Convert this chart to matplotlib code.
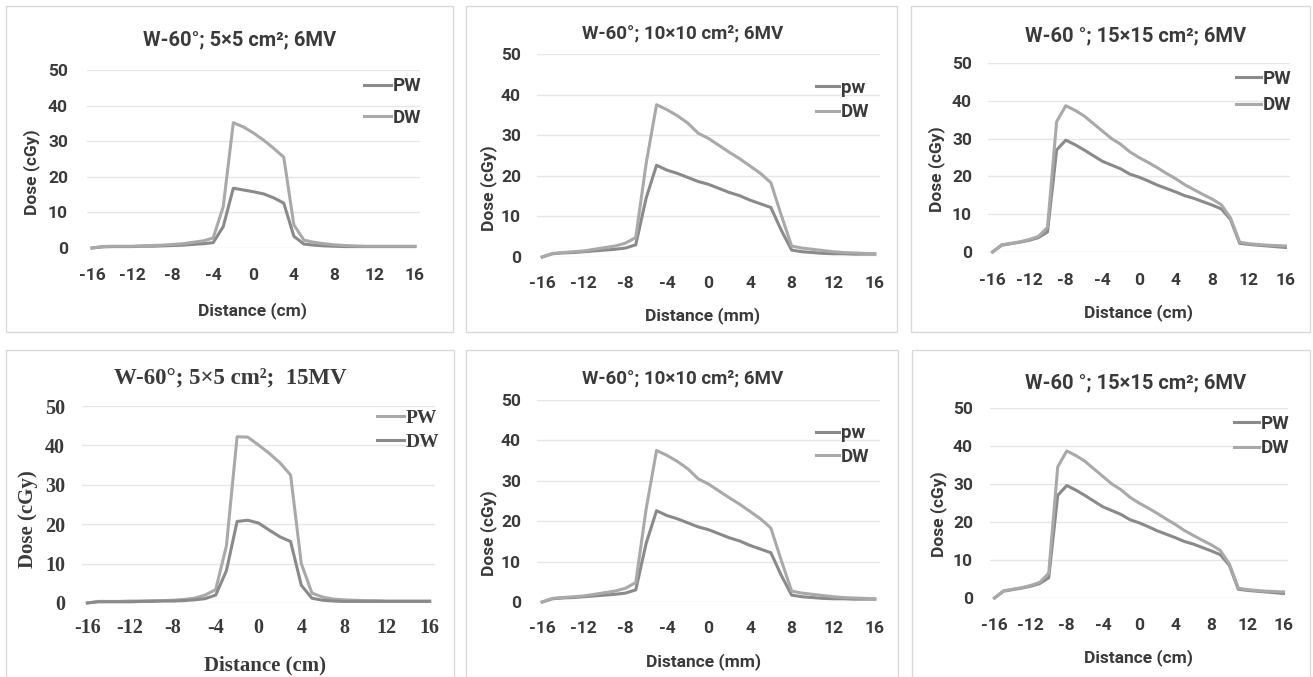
import numpy as np
import matplotlib
matplotlib.use('Agg')
import matplotlib.pyplot as plt
from matplotlib.patches import Rectangle

plt.rcParams['axes.unicode_minus'] = False

W, H = 1313, 677

distance = list(range(-16, 17))

# W-60; 5x5 cm2; 6MV
pw_5x5_6mv = [0, 0.3, 0.4, 0.4, 0.4, 0.5, 0.5, 0.6, 0.7, 0.8, 1.0, 1.2, 1.5, 6, 16.8, 16.3, 15.8,
              15.2, 14.1, 12.6, 3.3, 1.1, 0.8, 0.6, 0.5, 0.4, 0.4, 0.4, 0.4, 0.4, 0.4, 0.4, 0.4]
dw_5x5_6mv = [0, 0.4, 0.5, 0.5, 0.5, 0.6, 0.7, 0.8, 1.0, 1.2, 1.6, 2.0, 2.8, 11.6, 35.2, 34, 32.3,
              30.3, 28, 25.5, 6.5, 2.2, 1.6, 1.2, 0.9, 0.7, 0.6, 0.5, 0.5, 0.5, 0.5, 0.5, 0.5]

# W-60; 10x10 cm2; 6MV
pw_10x10_6mv = [0, 0.8, 1.0, 1.1, 1.3, 1.5, 1.7, 1.9, 2.2, 3.0, 14.5, 22.6, 21.4, 20.6, 19.6, 18.6, 17.9,
                16.9, 15.9, 15.1, 14.0, 13.1, 12.2, 6.6, 1.7, 1.3, 1.1, 0.9, 0.8, 0.8, 0.7, 0.7, 0.7]
dw_10x10_6mv = [0, 0.9, 1.1, 1.3, 1.5, 1.9, 2.3, 2.7, 3.4, 4.8, 23, 37.5, 36.3, 34.8, 33, 30.5, 29.2,
                27.5, 25.8, 24.2, 22.4, 20.6, 18.3, 10.3, 2.7, 2.2, 1.9, 1.6, 1.3, 1.1, 1.0, 0.9, 0.8]

# W-60; 15x15 cm2; 6MV
pw_15x15_6mv = [0, 1.9, 2.3, 2.7, 3.3, 4.1, 6.5, 34.5, 38.7, 37.5, 36, 34, 32, 30, 28.5, 26.5, 25,
                23.7, 22.3, 20.8, 19.4, 17.8, 16.5, 15.2, 14, 12.5, 9.0, 2.6, 2.2, 2.0, 1.8, 1.7, 1.6]
dw_15x15_6mv = [0, 1.8, 2.2, 2.6, 3.1, 3.8, 5.3, 27, 29.6, 28.4, 27, 25.5, 24, 23, 22, 20.6, 19.8,
                18.8, 17.7, 16.8, 15.9, 14.9, 14.2, 13.3, 12.4, 11.4, 8.6, 2.3, 2.0, 1.8, 1.6, 1.4, 1.2]

# W-60; 5x5 cm2; 15MV
pw_5x5_15mv = [0, 0.4, 0.4, 0.4, 0.5, 0.5, 0.6, 0.6, 0.7, 0.9, 1.2, 2.0, 3.4, 14.5, 42.2, 42.1, 40.1,
               38, 35.6, 32.5, 10, 2.5, 1.5, 1.0, 0.8, 0.7, 0.6, 0.6, 0.5, 0.5, 0.5, 0.5, 0.5]
dw_5x5_15mv = [0, 0.3, 0.3, 0.3, 0.3, 0.4, 0.4, 0.5, 0.5, 0.6, 0.8, 1.1, 2.0, 8.2, 20.7, 21, 20.3,
               18.5, 16.8, 15.6, 4.5, 1.2, 0.7, 0.5, 0.4, 0.4, 0.4, 0.4, 0.4, 0.4, 0.4, 0.4, 0.4]

titles = ['W-60°; 5×5 cm²; 6MV', 'W-60°; 10×10 cm²; 6MV', 'W-60 °; 15×15 cm²; 6MV',
          'W-60°; 5×5 cm²;  15MV', 'W-60°; 10×10 cm²; 6MV', 'W-60 °; 15×15 cm²; 6MV']
xlabels = ['Distance (cm)', 'Distance (mm)', 'Distance (cm)',
           'Distance (cm)', 'Distance (mm)', 'Distance (cm)']
yticks = [0, 10, 20, 30, 40, 50]
xticks = [-16, -12, -8, -4, 0, 4, 8, 12, 16]

DARK = '#8a8a8a'
LIGHT = '#a9a9a9'
SANS = 'Roboto'
SERIF = 'Liberation Serif'

# layout in pixels: panel box, axes (l, t, r, b), title, ylabel, xlabel, legend (left, mid y)
panels = [
    dict(box=(6, 6, 453, 332), ax=(87, 70, 420, 248), tpos=(240, 40), tfs=14.5, ypos=(32, 172),
         xpos=(252, 311), leg=(364, 102), lsp=32, hl=27, xpad=29, ypad=19, font=SANS,
         series=[(pw_5x5_6mv, 'PW', DARK), (dw_5x5_6mv, 'DW', LIGHT)]),
    dict(box=(466, 6, 897, 332), ax=(537, 54, 880, 257), tpos=(683, 34), tfs=13.5, ypos=(489, 188),
         xpos=(703, 316), leg=(816, 100), lsp=25, hl=23, xpad=28, ypad=16, font=SANS,
         series=[(pw_10x10_6mv, 'pw', DARK), (dw_10x10_6mv, 'DW', LIGHT)]),
    dict(box=(911, 6, 1310, 332), ax=(988, 63, 1290, 252), tpos=(1136, 36), tfs=14.5, ypos=(937, 169),
         xpos=(1139, 313), leg=(1236, 92), lsp=27, hl=25, xpad=30, ypad=16, font=SANS,
         series=[(dw_15x15_6mv, 'PW', DARK), (pw_15x15_6mv, 'DW', LIGHT)]),
    dict(box=(6, 350, 454, 690), ax=(82, 406, 435, 603), tpos=(230, 378), tfs=16.5, ypos=(28, 519),
         xpos=(265, 665), leg=(377, 430), lsp=26, hl=27, xpad=24, ypad=17, font=SERIF,
         series=[(pw_5x5_15mv, 'PW', LIGHT), (dw_5x5_15mv, 'DW', DARK)]),
    dict(box=(466, 350, 898, 690), ax=(537, 400, 880, 602), tpos=(683, 379), tfs=13.5, ypos=(489, 533),
         xpos=(704, 662), leg=(816, 445), lsp=24, hl=23, xpad=28, ypad=16, font=SANS,
         series=[(pw_10x10_6mv, 'pw', DARK), (dw_10x10_6mv, 'DW', LIGHT)]),
    dict(box=(912, 350, 1310, 690), ax=(990, 408, 1288, 598), tpos=(1136, 383), tfs=14.5, ypos=(939, 514),
         xpos=(1139, 658), leg=(1234, 436), lsp=25, hl=25, xpad=29, ypad=17, font=SANS,
         series=[(dw_15x15_6mv, 'PW', DARK), (pw_15x15_6mv, 'DW', LIGHT)]),
]

PT = 72 / 100  # points per pixel at dpi 100

fig = plt.figure(figsize=(W / 100, H / 100), dpi=100)

for i, p in enumerate(panels):
    x0, y0, x1, y1 = p['box']
    fig.patches.append(Rectangle((x0 / W, 1 - y1 / H), (x1 - x0) / W, (y1 - y0) / H,
                                 transform=fig.transFigure, fill=False, ec='#d9d9d9', lw=1))
    l, t, r, b = p['ax']
    ax = fig.add_axes([l / W, 1 - b / H, (r - l) / W, (b - t) / H])
    font = p['font']
    serif = font == SERIF
    for vals, lab, col in p['series']:
        ax.plot(distance, vals, color=col, lw=2.2, label=lab, clip_on=False,
                solid_joinstyle='round')
    ax.set_xlim(-16.5, 16.5)
    ax.set_ylim(0, 50)
    ax.set_yticks(yticks)
    ax.set_xticks(xticks)
    ax.grid(axis='y', color='#e6e6e6', lw=1)
    ax.set_axisbelow(True)
    for s in ax.spines.values():
        s.set_visible(False)
    tkfs = 14.5 if serif else 12.5
    ax.tick_params(length=0, labelsize=tkfs, labelcolor='#3a3a3a')
    ax.tick_params(axis='x', pad=(p['xpad'] - 9) * PT)
    ax.tick_params(axis='y', pad=p['ypad'] * PT)
    for lbl in ax.get_xticklabels() + ax.get_yticklabels():
        lbl.set_fontfamily(font)
        lbl.set_fontweight('bold')

    fig.text(p['tpos'][0] / W, 1 - p['tpos'][1] / H, titles[i], ha='center', va='center',
             fontsize=p['tfs'], fontfamily=font, fontweight='bold', color='#3a3a3a')
    afs = 15 if serif else 12.5
    fig.text(p['ypos'][0] / W, 1 - p['ypos'][1] / H, 'Dose (cGy)', rotation=90, ha='center',
             va='center', fontsize=afs, fontfamily=font, fontweight='bold', color='#3a3a3a')
    fig.text(p['xpos'][0] / W, 1 - p['xpos'][1] / H, xlabels[i], ha='center', va='center',
             fontsize=afs, fontfamily=font, fontweight='bold', color='#3a3a3a')

    lfs = 14 if serif else 13.5
    fpx = lfs / PT
    ax.legend(loc='center left', bbox_to_anchor=(p['leg'][0] / W, 1 - p['leg'][1] / H),
              bbox_transform=fig.transFigure, frameon=False, borderpad=0, borderaxespad=0,
              handlelength=p['hl'] / fpx, handletextpad=0.1,
              labelspacing=(p['lsp'] - fpx) / fpx,
              prop={'family': font, 'weight': 'bold', 'size': lfs})
    for txt in ax.get_legend().get_texts():
        txt.set_color('#3a3a3a')

fig.savefig('out.png', dpi=100)
